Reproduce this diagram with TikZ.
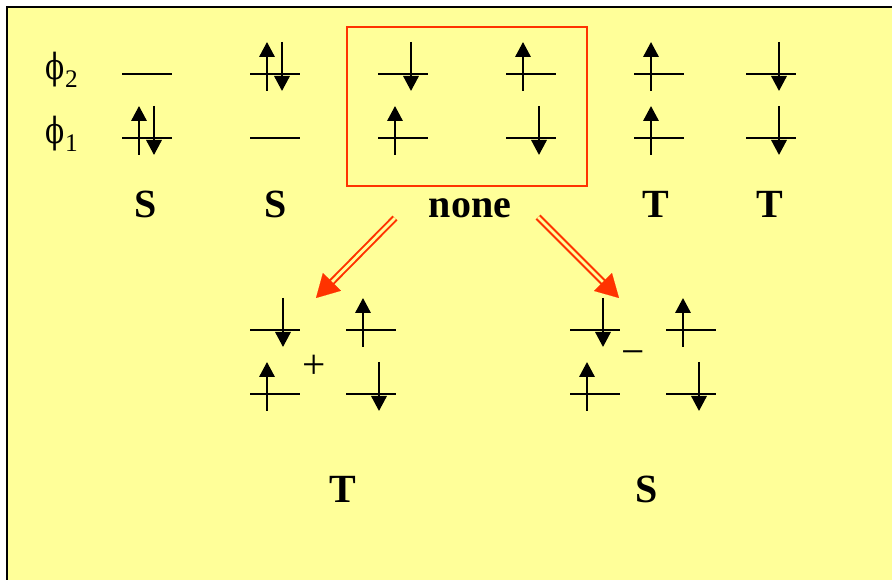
\documentclass[tikz,border=0pt]{standalone}
\usepackage{fontspec}
\setmainfont{Liberation Serif}
\newfontfamily\phifont{DejaVu Serif}
\usetikzlibrary{arrows.meta,calc}
\definecolor{bgyellow}{RGB}{255,255,153}
\definecolor{boxred}{RGB}{255,51,0}
\tikzset{
  lvl/.style={line width=1.5pt, black},
  spin/.style={line width=1.7pt, black},
  spinup/.style={spin, -{Triangle[length=11.25pt,width=11.5pt]}},
  statelabel/.style={font=\fontsize{30pt}{36pt}\selectfont\bfseries, anchor=base, inner sep=0pt},
  orblabel/.style={font=\fontsize{24pt}{28pt}\selectfont, anchor=base west, inner sep=0pt},
  signlabel/.style={font=\fontsize{31pt}{36pt}\selectfont, inner sep=0pt},
  dblarrow/.style={boxred, line width=1.5pt, double=bgyellow, double distance=2.1pt, shorten >=14pt},
  redhead/.style={boxred, line width=0.1pt, -{Triangle[length=17pt,width=19pt]}}
}
\newcommand{\mylvl}[2]{\draw[lvl] (#1-25,#2) -- (#1+25,#2);}
\newcommand{\myup}[2]{\draw[spinup] (#1-8,#2+17) -- (#1-8,#2-32);}
\newcommand{\mydn}[2]{\draw[spinup] (#1+8,#2-32) -- (#1+8,#2+17);}
\newcommand{\myphi}{{\phifont\fontsize{27pt}{30pt}\selectfont\scalebox{0.78}[1]{ϕ}}}
\begin{document}
\begin{tikzpicture}[x=0.75pt,y=-0.75pt]
\useasboundingbox (0,0) rectangle (892,580);
\fill[white] (0,0) rectangle (892,580);
\fill[bgyellow] (7,7) rectangle (892,580);
\draw[line width=1.5pt] (7,580) -- (7,7) -- (892,7);
% orbital labels
\node[orblabel] (phi2) at (45,80) {\myphi\kern0.5pt\raisebox{-6pt}{\fontsize{19pt}{20pt}\selectfont 2}};
\node[orblabel] (phi1) at (45,144) {\myphi\kern0.5pt\raisebox{-6pt}{\fontsize{19pt}{20pt}\selectfont 1}};
% red box
\draw[boxred, line width=1.3pt] (347,27) rectangle (587,186);
% column 1
\mylvl{147}{74} \mylvl{147}{138} \myup{147}{138} \mydn{146}{138}
% column 2
\mylvl{275}{74} \mylvl{275}{138} \myup{275}{74} \mydn{274}{74}
% column 3
\mylvl{403}{74} \mylvl{403}{138} \mydn{403}{74} \myup{403}{138}
% column 4
\mylvl{531}{74} \mylvl{531}{138} \myup{531}{74} \mydn{531}{138}
% column 5
\mylvl{659}{74} \mylvl{659}{138} \myup{659}{74} \myup{659}{138}
% column 6
\mylvl{771}{74} \mylvl{771}{138} \mydn{771}{74} \mydn{771}{138}
% state labels
\node[statelabel] (s1) at (146,218) {S};
\node[statelabel] (s2) at (276,218) {S};
\node[statelabel] (none) at (470,218) {none};
\node[statelabel] (t1) at (656,218) {T};
\node[statelabel] (t2) at (770,218) {T};
% arrows
\coordinate (a1s) at (395,218);
\coordinate (a1t) at (316,298);
\coordinate (a2s) at (538,217);
\coordinate (a2t) at (619,298);
\draw[dblarrow] (a1s) -- (a1t);
\draw[redhead] ($(a1t)!17pt!(a1s)$) -- (a1t);
\draw[dblarrow] (a2s) -- (a2t);
\draw[redhead] ($(a2t)!17pt!(a2s)$) -- (a2t);
% bottom left combination
\mylvl{275}{330} \mylvl{275}{394} \mydn{275}{330} \myup{275}{394}
\mylvl{371}{330} \mylvl{371}{394} \myup{371}{330} \mydn{371}{394}
\node[signlabel] (plus) at (314,367) {+};
% bottom right combination
\mylvl{595}{330} \mylvl{595}{394} \mydn{595}{330} \myup{595}{394}
\mylvl{691}{330} \mylvl{691}{394} \myup{691}{330} \mydn{691}{394}
\node[signlabel] (minus) at (633,358) {−};
% bottom labels
\node[statelabel] (tb) at (343,503) {T};
\node[statelabel] (sb) at (647,503) {S};
\end{tikzpicture}
\end{document}
